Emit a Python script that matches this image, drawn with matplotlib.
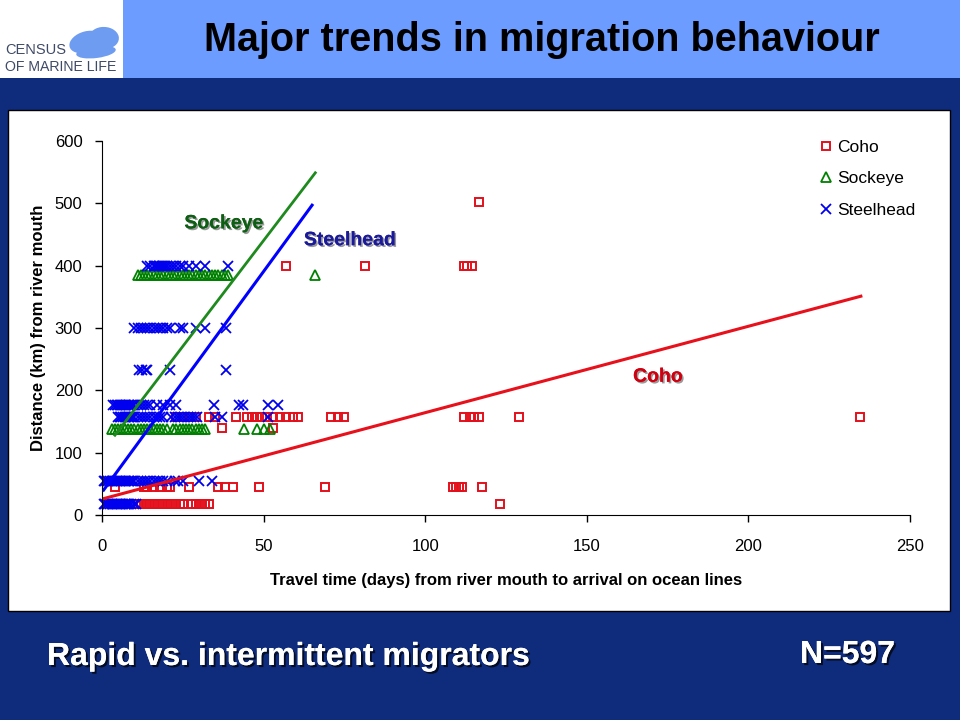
import matplotlib.pyplot as plt
import matplotlib.patheffects as pe
from matplotlib.patches import Rectangle, Ellipse
import numpy as np

plt.rcParams['font.family'] = ['Liberation Sans', 'DejaVu Sans']

# Coho (days) at each distance row (km)
coho_18 = [11, 12, 13, 14, 15, 16, 17, 18, 19, 20, 21, 22, 23, 24, 25, 28, 29, 30, 31, 32, 33, 123]
coho_45 = [4, 13, 14, 16, 18, 20, 21, 27, 36, 38, 40.5, 48.5, 69, 108.5, 109.5, 110.5, 111.5, 117.5]
coho_140 = [37, 53]
coho_157 = [23, 25, 27, 29, 33, 35, 41.5, 45, 46.5, 48, 49.5, 51, 53, 55, 57, 59, 60.5,
            71, 73, 75, 112, 114, 115, 116.5, 129, 234.5]
coho_400 = [57, 81.5, 112, 113, 114.5]
coho_500 = [116.5]

# Sockeye
sock_138 = [3, 4, 5, 6, 7, 8, 9, 10, 11, 12, 13, 14, 15, 16, 17, 18, 19, 20,
            22, 23, 24, 25, 26, 27, 28, 29, 30, 31, 32, 44, 48, 50, 52]
sock_385 = [11, 12, 13, 14, 15, 16, 17, 18, 19, 20, 21, 22, 23, 24, 25, 26, 27, 28,
            29, 30, 31, 32, 33, 34, 35, 36, 37, 38, 39, 66]

# Steelhead
steel_18 = [0.5, 1, 1.5, 2, 2.5, 3, 3.5, 4, 4.5, 5, 5.5, 6, 6.5, 7, 7.5, 8, 8.5, 9, 10, 10.5]
steel_55 = [0.5, 1, 1.5, 2, 2.5, 3, 3.5, 4, 4.5, 5, 5.5, 6, 6.5, 7, 7.5, 8, 8.5, 9, 9.5, 10,
            11, 12, 13, 14, 15, 16, 17, 18, 19, 20, 22.5, 23.5, 25, 30, 34]
steel_157 = [5, 5.5, 6, 6.5, 7, 7.5, 8, 8.5, 9, 9.5, 10, 11, 12, 13, 14, 15, 16, 17, 18, 19,
             21.5, 22.5, 23.5, 24.5, 25.5, 26.5, 27.5, 28.5, 29.5, 35, 37, 51.5]
steel_177 = [3.5, 4, 4.5, 5, 5.5, 6, 6.5, 7, 7.5, 8, 8.5, 9, 9.5, 10, 11, 12, 13, 14, 15,
             17, 19, 21, 23, 34.5, 42.5, 43.5, 51.5, 54.5]
steel_232 = [11.5, 12.5, 13.5, 14, 21, 38.5]
steel_300 = [10, 11, 12, 13, 14, 15, 16, 17, 18, 19, 20, 21, 24, 25, 29, 32, 38.5]
steel_400 = [14, 15, 16, 16.5, 17, 17.5, 18, 18.5, 19, 19.5, 20, 21, 22, 23, 24, 25, 27, 29, 32, 39]

# trend lines (endpoints)
coho_fit_x = [0.3, 234.8]
coho_fit_y = [26, 351]
sock_fit_x = [4, 66]
sock_fit_y = [128, 549]
steel_fit_x = [0.5, 65]
steel_fit_y = [40, 497]


def rows(pairs):
    xs, ys = [], []
    for d, days in pairs:
        xs += days
        ys += [d] * len(days)
    return np.array(xs), np.array(ys)


coho_x, coho_y = rows([(18, coho_18), (45, coho_45), (140, coho_140), (157, coho_157),
                       (400, coho_400), (502, coho_500)])
sock_x, sock_y = rows([(138, sock_138), (385, sock_385)])
steel_x, steel_y = rows([(18, steel_18), (55, steel_55), (157, steel_157), (177, steel_177),
                         (232, steel_232), (300, steel_300), (400, steel_400)])

fig = plt.figure(figsize=(9.6, 7.2), dpi=100)
fig.patch.set_facecolor('#0F2B7B')

# title band + logo box
fig.patches.append(Rectangle((0, 1 - 78 / 720), 1, 78 / 720, transform=fig.transFigure,
                             facecolor='#6C9CFF', edgecolor='none', zorder=0))
fig.patches.append(Rectangle((0, 1 - 78 / 720), 123 / 960, 78 / 720, transform=fig.transFigure,
                             facecolor='white', edgecolor='none', zorder=1))
fig.patches.append(Ellipse((86 / 960, 1 - 42 / 720), 36 / 960, 20 / 720, angle=35,
                           transform=fig.transFigure, facecolor='#6E9CF0', edgecolor='none', zorder=2))
fig.patches.append(Ellipse((104 / 960, 1 - 38 / 720), 30 / 960, 22 / 720, angle=-35,
                           transform=fig.transFigure, facecolor='#6E9CF0', edgecolor='none', zorder=2))
fig.patches.append(Ellipse((96 / 960, 1 - 52 / 720), 40 / 960, 12 / 720, angle=10,
                           transform=fig.transFigure, facecolor='#6E9CF0', edgecolor='none', zorder=2))
fig.text(5 / 960, 1 - 50 / 720, 'CENSUS', fontsize=10.5, color='#3E4A66', va='center')
fig.text(5 / 960, 1 - 67 / 720, 'OF MARINE LIFE', fontsize=10.2, color='#3E4A66', va='center')

fig.text(542 / 960, 1 - 40 / 720, 'Major trends in migration behaviour', fontsize=28.5,
         fontweight='bold', color='black', ha='center', va='center')

# white chart panel
fig.patches.append(Rectangle((8 / 960, 1 - 611 / 720), 942 / 960, 501 / 720, transform=fig.transFigure,
                             facecolor='white', edgecolor='black', linewidth=1, zorder=1))

shadow = [pe.withSimplePatchShadow(offset=(1.5, -1.5), shadow_rgbFace='black', alpha=0.7), pe.Normal()]
fig.text(47 / 960, 1 - 657 / 720, 'Rapid vs. intermittent migrators', fontsize=23, fontweight='bold',
         color='white', va='center', path_effects=shadow)
fig.text(800 / 960, 1 - 655 / 720, 'N=597', fontsize=23, fontweight='bold',
         color='white', va='center', path_effects=shadow)

ax = fig.add_axes([102 / 960, 1 - 515 / 720, 808 / 960, 374 / 720])
ax.set_facecolor('white')
ax.set_zorder(3)

ax.plot(coho_x, coho_y, 's', ms=5.5, mfc='none', mec='#E3101C', mew=1.4, label='Coho', clip_on=False)
ax.plot(sock_x, sock_y, '^', ms=6.5, mfc='none', mec='#008000', mew=1.3, label='Sockeye', clip_on=False)
ax.plot(steel_x, steel_y, 'x', ms=6.5, mec='#0000EE', mew=1.3, label='Steelhead', clip_on=False)

ax.plot(coho_fit_x, coho_fit_y, color='#E8101A', lw=2.2)
ax.plot(sock_fit_x, sock_fit_y, color='#1E8A1E', lw=2)
ax.plot(steel_fit_x, steel_fit_y, color='#0000FF', lw=2.2)

lab_shadow = [pe.withSimplePatchShadow(offset=(1.2, -1.2), shadow_rgbFace='#555555', alpha=0.6), pe.Normal()]
ax.text(37.7, 467, 'Sockeye', color='#0E5E14', fontsize=14, fontweight='bold',
        ha='center', va='center', path_effects=lab_shadow)
ax.text(76.7, 440, 'Steelhead', color='#1A1A9A', fontsize=14, fontweight='bold',
        ha='center', va='center', path_effects=lab_shadow)
ax.text(172, 221, 'Coho', color='#D00010', fontsize=14, fontweight='bold',
        ha='center', va='center', path_effects=lab_shadow)

ax.set_xlim(0, 250)
ax.set_ylim(0, 600)
ax.set_xticks([0, 50, 100, 150, 200, 250])
ax.set_yticks([0, 100, 200, 300, 400, 500, 600])
ax.spines['top'].set_visible(False)
ax.spines['right'].set_visible(False)
ax.tick_params(direction='out', length=5, width=1, labelsize=12)
ax.tick_params(axis='x', pad=12)
ax.tick_params(axis='y', pad=9)
ax.set_xlabel('Travel time (days) from river mouth to arrival on ocean lines', fontsize=12,
              fontweight='bold', labelpad=14)
ax.set_ylabel('Distance (km) from river mouth', fontsize=12, fontweight='bold', labelpad=6)

ax.legend(loc='upper left', bbox_to_anchor=(812 / 960, 1 - 131 / 720), bbox_transform=fig.transFigure,
          frameon=False, fontsize=12.5, handlelength=0.6, handletextpad=0.35, labelspacing=0.95,
          borderpad=0)

fig.savefig('out.png', dpi=100, facecolor=fig.get_facecolor())
